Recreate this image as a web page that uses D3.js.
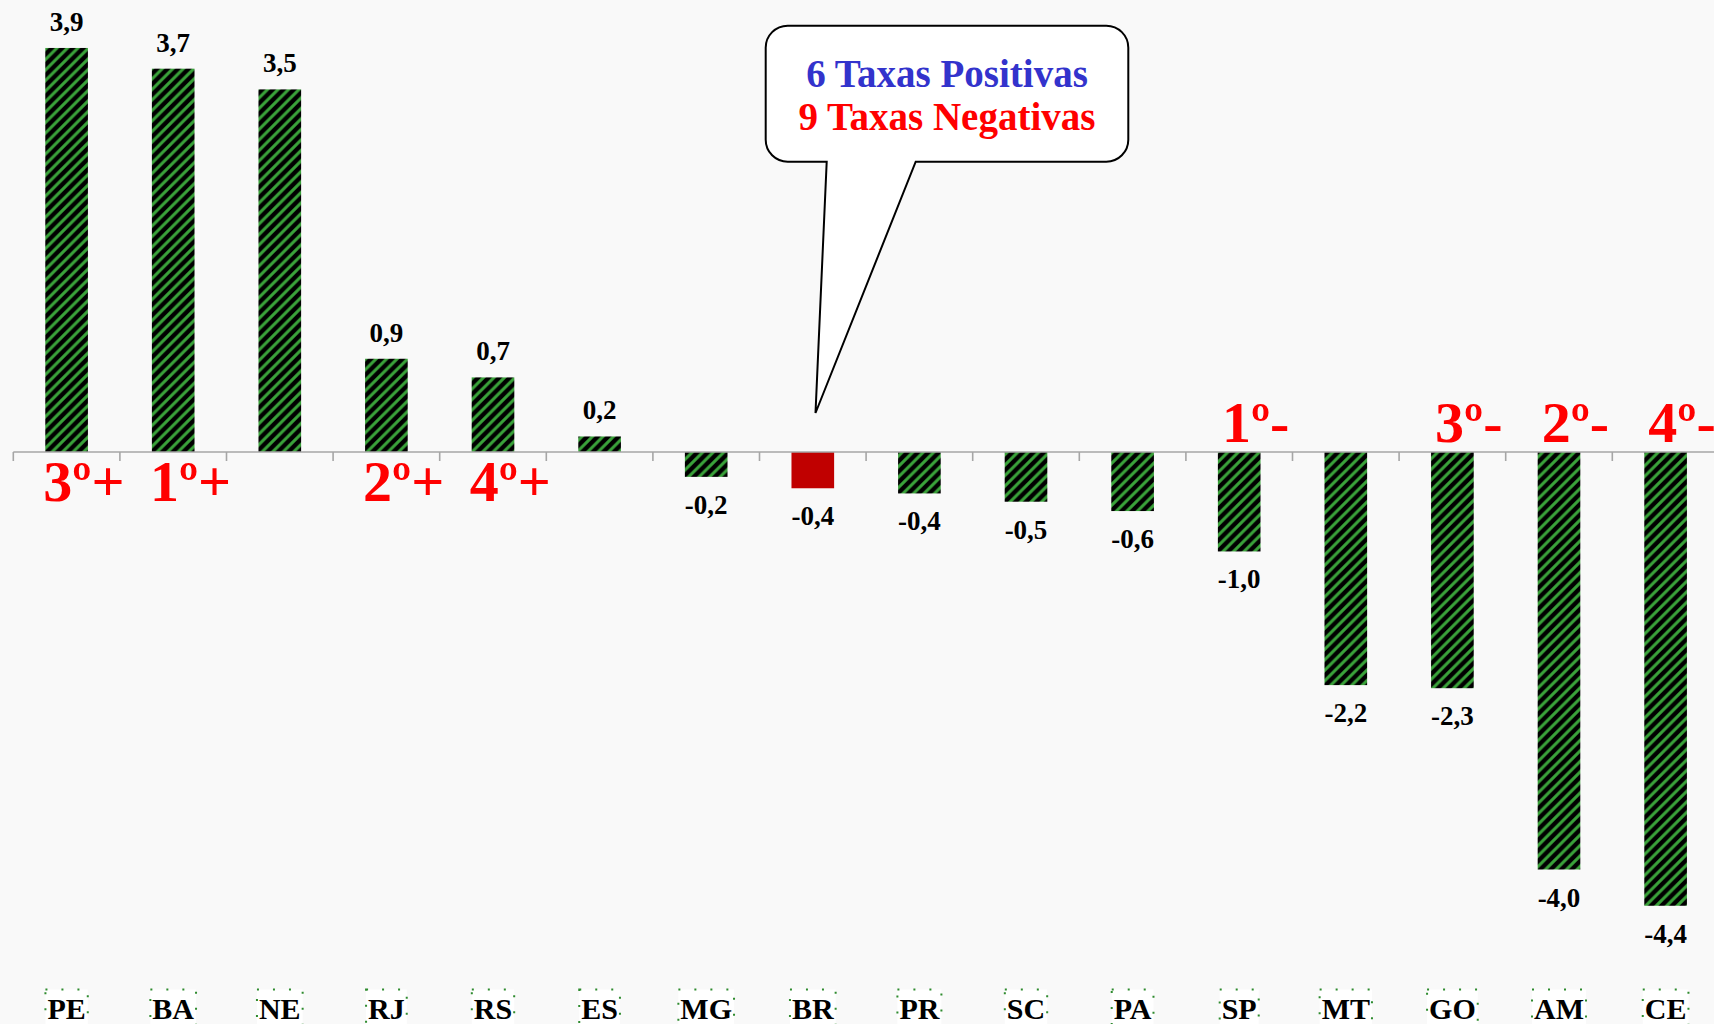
<!DOCTYPE html>
<html>
<head>
<meta charset="utf-8">
<script src="https://cdn.jsdelivr.net/npm/d3@7"></script>
<style>
  html, body { margin: 0; padding: 0; background: #f9f9f9; overflow: hidden; }
  svg { display: block; }
</style>
</head>
<body>
<svg id="chart" width="1714" height="1024"></svg>
<script>
// ---- data ----
const categories = ["PE","BA","NE","RJ","RS","ES","MG","BR","PR","SC","PA","SP","MT","GO","AM","CE"];
const values = [3.9, 3.7, 3.5, 0.9, 0.72, 0.15, -0.24, -0.35, -0.4, -0.48, -0.57, -0.96, -2.25, -2.28, -4.03, -4.38];
const valueLabels = ["3,9","3,7","3,5","0,9","0,7","0,2","-0,2","-0,4","-0,4","-0,5","-0,6","-1,0","-2,2","-2,3","-4,0","-4,4"];
const rankCats = ["PE","BA","RJ","RS","SP","GO","AM","CE"];
const rankTexts = ["3º+","1º+","2º+","4º+","1º-","3º-","2º-","4º-"];
const highlightCat = "BR";
const calloutLines = ["6 Taxas Positivas", "9 Taxas Negativas"];
const calloutColors = ["#3333cc", "#ff0000"];

// ---- layout ----
const W = 1714, H = 1024;
const svg = d3.select("#chart");
svg.append("rect").attr("width", W).attr("height", H).attr("fill", "#f9f9f9");

const x = d3.scaleBand().domain(categories).range([13.3, 1718.9]).paddingInner(0.6).paddingOuter(0.3);
const y = d3.scaleLinear().domain([-5, 4]).range([970, 37.6]);
const serif = "'Liberation Serif', 'Times New Roman', serif";

// pattern (wide upward diagonal)
const T = 10.5;
const defs = svg.append("defs");
const pat = defs.append("pattern").attr("id", "stripes").attr("patternUnits", "userSpaceOnUse")
  .attr("width", T).attr("height", T);
pat.append("rect").attr("width", T).attr("height", T).attr("fill", "#000");
pat.append("path").attr("d", `M-3,3 L3,-3 M0,${T} L${T},0 M${T-3},${T+3} L${T+3},${T-3}`)
  .attr("stroke", "#3aa33a").attr("stroke-width", 3);

// bars
svg.append("g").selectAll("rect").data(categories).join("rect")
  .attr("x", d => x(d))
  .attr("width", x.bandwidth())
  .attr("y", (d, i) => y(Math.max(0, values[i])))
  .attr("height", (d, i) => Math.abs(y(values[i]) - y(0)))
  .attr("fill", d => d === highlightCat ? "#c00000" : "url(#stripes)");

// axis line and ticks at band boundaries
const step = x.step();
const r0 = x.range()[0];
const ax = svg.append("g");
ax.append("line").attr("x1", r0).attr("x2", W).attr("y1", y(0)).attr("y2", y(0))
  .attr("stroke", "#a6a6a6").attr("stroke-width", 1.6);
ax.selectAll("line.tick").data(d3.range(categories.length + 1)).join("line")
  .attr("class", "tick")
  .attr("x1", i => r0 + i * step).attr("x2", i => r0 + i * step)
  .attr("y1", y(0)).attr("y2", y(0) + 9)
  .attr("stroke", "#a6a6a6").attr("stroke-width", 1.6);

// value labels
svg.append("g").selectAll("text").data(categories).join("text")
  .attr("x", d => x(d) + x.bandwidth() / 2)
  .attr("y", (d, i) => values[i] >= 0 ? y(values[i]) - 17 : y(values[i]) + 37)
  .attr("text-anchor", "middle")
  .attr("font-family", serif).attr("font-weight", "bold").attr("font-size", 27)
  .attr("fill", "#000")
  .text((d, i) => valueLabels[i]);

// rank labels
svg.append("g").selectAll("text").data(rankCats).join("text")
  .attr("x", d => values[categories.indexOf(d)] >= 0 ? x(d) - 2 : x(d) + 4)
  .attr("y", d => values[categories.indexOf(d)] >= 0 ? y(0) + 49 : y(0) - 10)
  .attr("font-family", serif).attr("font-weight", "bold").attr("font-size", 58)
  .attr("fill", "#ff0000")
  .text((d, i) => rankTexts[i]);

// category labels with boxes
const cg = svg.append("g");
categories.forEach(c => {
  const g = cg.append("g");
  const t = g.append("text")
    .attr("x", x(c) + x.bandwidth() / 2).attr("y", 1019)
    .attr("text-anchor", "middle")
    .attr("font-family", serif).attr("font-weight", "bold").attr("font-size", 30)
    .attr("fill", "#000").text(c);
  const w = t.node().getComputedTextLength();
  g.insert("rect", "text")
    .attr("x", x(c) + x.bandwidth() / 2 - w / 2 - 2).attr("y", 989.5)
    .attr("width", w + 4).attr("height", 40)
    .attr("fill", "#fff").attr("stroke", "#2e8b2e").attr("stroke-width", 2)
    .attr("stroke-dasharray", "2,14");
});

// callout
const bx0 = 765.7, bx1 = 1128.3, by0 = 25.7, by1 = 161.7, rr = 22;
const px0 = 826.7, px1 = 915.7, tipX = 815.5, tipY = 413;
const p = d3.path();
p.moveTo(bx0 + rr, by0);
p.lineTo(bx1 - rr, by0);
p.arcTo(bx1, by0, bx1, by0 + rr, rr);
p.lineTo(bx1, by1 - rr);
p.arcTo(bx1, by1, bx1 - rr, by1, rr);
p.lineTo(px1, by1);
p.lineTo(tipX, tipY);
p.lineTo(px0, by1);
p.lineTo(bx0 + rr, by1);
p.arcTo(bx0, by1, bx0, by1 - rr, rr);
p.lineTo(bx0, by0 + rr);
p.arcTo(bx0, by0, bx0 + rr, by0, rr);
p.closePath();
svg.append("path").attr("d", p.toString())
  .attr("fill", "#fff").attr("stroke", "#000").attr("stroke-width", 2);

svg.append("g").selectAll("text").data(calloutLines).join("text")
  .attr("x", (bx0 + bx1) / 2)
  .attr("y", (d, i) => 87 + i * 43)
  .attr("text-anchor", "middle")
  .attr("font-family", serif).attr("font-weight", "bold").attr("font-size", 39)
  .attr("fill", (d, i) => calloutColors[i])
  .text(d => d);
</script>
</body>
</html>
